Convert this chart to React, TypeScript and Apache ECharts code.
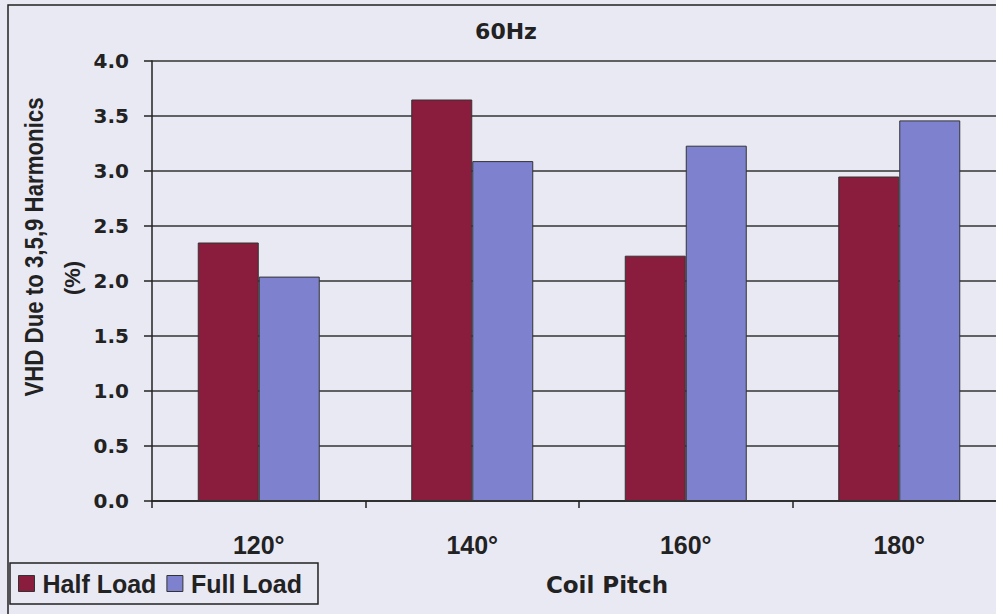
import React, { useEffect, useRef } from "react";
import * as echarts from "echarts";

const categories = ["120°", "140°", "160°", "180°"];
const halfLoad = [2.35, 3.65, 2.23, 2.95];
const fullLoad = [2.04, 3.09, 3.23, 3.46];
const seriesNames = ["Half Load", "Full Load"];
const yTitleLines = ["VHD Due to 3,5,9 Harmonics", "(%)"];
const xTitle = "Coil Pitch";
const chartTitle = "60Hz";

const ARIAL = "'Liberation Sans', Arial, sans-serif";
const WIDE = "'DejaVu Sans', 'Liberation Sans', sans-serif";
const INK = "#222";

export default function App() {
  const ref = useRef<HTMLDivElement>(null);
  useEffect(() => {
    if (!ref.current) return;
    const chart = echarts.init(ref.current, null, { renderer: "svg" });
    chart.setOption({
      animation: false,
      backgroundColor: "#E9E9F4",
      textStyle: { fontFamily: ARIAL },
      legend: {
        left: 10,
        top: 563,
        orient: "horizontal",
        itemWidth: 16,
        itemHeight: 16,
        itemGap: 10,
        padding: [8, 16, 8, 8],
        borderColor: INK,
        borderWidth: 1.5,
        icon: "rect",
        itemStyle: { borderColor: "#333", borderWidth: 1 },
        textStyle: {
          fontSize: 25,
          fontWeight: "bold",
          color: INK,
          fontFamily: ARIAL,
          padding: [0, 0, 0, 3],
        },
        data: seriesNames,
      },
      grid: { left: 152, top: 61, width: 854, height: 440, containLabel: false },
      xAxis: {
        type: "category",
        data: categories,
        axisLine: { lineStyle: { color: INK, width: 1.5 } },
        axisTick: { show: true, length: 7, lineStyle: { color: INK, width: 1.5 } },
        axisLabel: {
          fontSize: 25,
          fontWeight: "bold",
          color: INK,
          margin: 31,
          fontFamily: ARIAL,
        },
      },
      yAxis: {
        type: "value",
        min: 0,
        max: 4,
        interval: 0.5,
        axisLine: { show: true, lineStyle: { color: INK, width: 1.5 } },
        axisTick: { show: true, length: 8, lineStyle: { color: INK, width: 1.5 } },
        axisLabel: {
          fontSize: 20,
          fontWeight: "bold",
          color: INK,
          margin: 23,
          fontFamily: WIDE,
          formatter: (v: number) => v.toFixed(1),
        },
        splitLine: { show: true, lineStyle: { color: "#333", width: 1.5 } },
      },
      series: [
        {
          name: seriesNames[0],
          type: "bar",
          data: halfLoad,
          barWidth: 61,
          barGap: "0%",
          itemStyle: { color: "#8A1C3E", borderColor: "#333", borderWidth: 1 },
        },
        {
          name: seriesNames[1],
          type: "bar",
          data: fullLoad,
          barWidth: 61,
          barGap: "0%",
          itemStyle: { color: "#7E82CE", borderColor: "#333", borderWidth: 1 },
        },
      ],
      graphic: [
        {
          type: "rect",
          shape: { x: 8, y: 5, width: 1100, height: 800 },
          style: { fill: "none", stroke: INK, lineWidth: 1.5 },
          silent: true,
          z: 100,
        },
        {
          type: "text",
          x: 506,
          y: 31,
          style: {
            text: chartTitle,
            fontSize: 22,
            fontWeight: "bold",
            fill: INK,
            fontFamily: WIDE,
            align: "center",
            verticalAlign: "middle",
          },
        },
        {
          type: "text",
          x: 35,
          y: 247,
          rotation: Math.PI / 2,
          scaleX: 0.89,
          style: {
            text: yTitleLines[0],
            fontSize: 25,
            fontWeight: "bold",
            fill: INK,
            fontFamily: ARIAL,
            align: "center",
            verticalAlign: "middle",
          },
        },
        {
          type: "text",
          x: 72,
          y: 278,
          rotation: Math.PI / 2,
          style: {
            text: yTitleLines[1],
            fontSize: 22,
            fontWeight: "bold",
            fill: INK,
            fontFamily: ARIAL,
            align: "center",
            verticalAlign: "middle",
          },
        },
        {
          type: "text",
          x: 607,
          y: 585,
          style: {
            text: xTitle,
            fontSize: 23,
            fontWeight: "bold",
            fill: INK,
            fontFamily: WIDE,
            align: "center",
            verticalAlign: "middle",
          },
        },
      ],
    });
    return () => chart.dispose();
  }, []);
  return (
    <div
      style={{
        position: "absolute",
        left: 0,
        top: 0,
        width: 996,
        height: 614,
        overflow: "hidden",
      }}
    >
      <div ref={ref} style={{ width: 1012, height: 614 }} />
    </div>
  );
}
